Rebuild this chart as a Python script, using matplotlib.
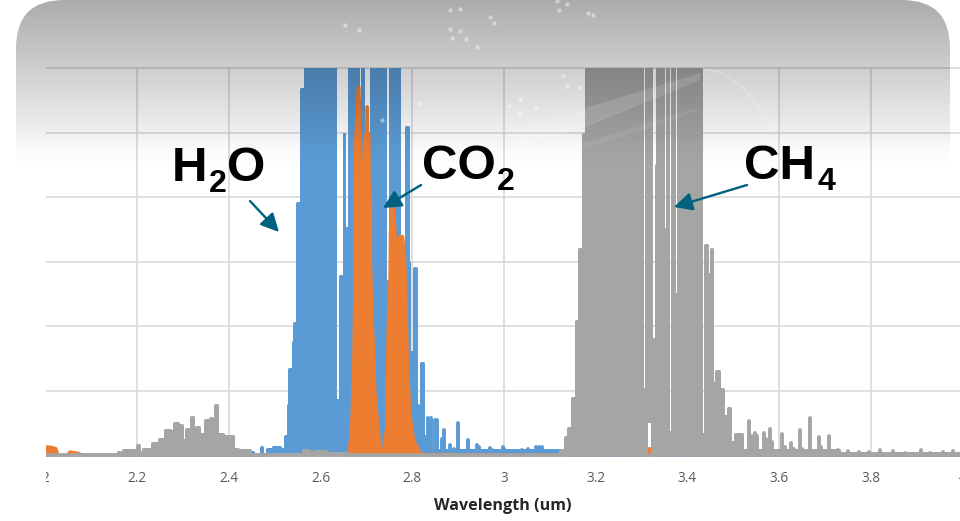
import numpy as np
import matplotlib
matplotlib.use("Agg")
import matplotlib.pyplot as plt
from matplotlib.patches import FancyArrowPatch, FancyBboxPatch, Polygon
from matplotlib.transforms import Bbox

W, H = 960, 521
CLIP = 7.0  # anything above the axis top, the chart just cuts it off

x_ticks = [2, 2.2, 2.4, 2.6, 2.8, 3, 3.2, 3.4, 3.6, 3.8, 4]
x_labels = ["2", "2.2", "2.4", "2.6", "2.8", "3", "3.2", "3.4", "3.6", "3.8", "4"]
y_ticks = [0, 1, 2, 3, 4, 5, 6]

# H2O band outline (steps), then the single lines of its tail
h2o_x = [2.0, 2.424, 2.433, 2.437, 2.448, 2.452, 2.469, 2.473, 2.483, 2.496, 2.511, 2.522, 2.528, 2.532,
         2.539, 2.543, 2.548, 2.558, 2.566, 2.632, 2.632, 2.643, 2.643, 2.651, 2.651, 2.652, 2.652, 2.663, 2.663,
         2.682, 2.682, 2.691, 2.691, 2.693, 2.693, 2.709, 2.709, 2.741, 2.741, 2.752, 2.752, 2.759, 2.759,
         2.766, 2.766, 2.771, 2.771, 2.786, 2.786, 2.787, 2.790, 2.792, 2.803, 2.803, 2.805, 2.808, 2.810,
         2.812, 2.819, 2.819, 2.820, 2.823, 2.829, 3.13, 4.0]
h2o_y = [0, 0, 0.05, 0, 0.05, 0, 0.12, 0, 0.10, 0.13, 0.10, 0.30, 0.77, 1.33,
         1.75, 2.04, 3.90, 5.67, CLIP, CLIP, 0.86, 0.86, 2.77, 2.77, 4.98, 4.98, 3.52, 3.52, CLIP,
         CLIP, 5.5, 5.5, CLIP, CLIP, 5.0, 5.0, CLIP, CLIP, 2.7, 2.7, CLIP, CLIP, 5.7,
         5.7, CLIP, CLIP, 3.2, 3.2, 5.09, 5.09, 3.0, 1.6, 1.6, 2.90, 2.90, 0.78, 0.78,
         0.32, 0.32, 1.42, 1.42, 0.3, 0.07, 0, 0]
h2o_line_x = [2.835, 2.840, 2.850, 2.854, 2.864, 2.869, 2.882, 2.890, 2.900, 2.922, 2.941, 2.946, 2.969, 2.974,
              2.997, 3.000, 3.020, 3.039, 3.052, 3.070, 3.076, 3.082, 3.100, 3.118, 3.318]
h2o_line_y = [0.57, 0.57, 0.55, 0.55, 0.25, 0.38, 0.16, 0.10, 0.49, 0.24, 0.15, 0.12, 0.11, 0.08,
              0.12, 0.10, 0.06, 0.07, 0.10, 0.13, 0.13, 0.13, 0.05, 0.06, 0.09]

# CO2
co2_x = [2.0, 2.014, 2.023, 2.027, 2.049, 2.053, 2.071, 2.08, 2.661, 2.667, 2.672, 2.675, 2.676, 2.682,
         2.684, 2.687, 2.692, 2.696, 2.700, 2.701, 2.702, 2.703, 2.706, 2.706, 2.709, 2.709, 2.711, 2.719,
         2.730, 2.736, 2.744, 2.747, 2.751, 2.752, 2.755, 2.759, 2.762, 2.766, 2.767, 2.769, 2.772, 2.779,
         2.783, 2.787, 2.790, 2.795, 2.803, 2.817, 2.832, 3.20, 3.209, 3.270, 3.28, 3.300, 3.310, 3.318,
         3.326, 3.335, 3.35, 3.42, 3.43, 4.0]
co2_y = [0.13, 0.12, 0.10, 0, 0, 0.05, 0.03, 0, 0, 0.36, 1.45, 3.0, 4.86, 5.70,
         5.70, 4.22, 4.22, 4.97, 4.97, 5.40, 5.40, 4.97, 4.97, 4.29, 3.88, 3.0, 2.49, 0.94,
         0.10, 0.02, 0.43, 1.96, 2.74, 3.47, 3.82, 3.82, 3.54, 2.85, 2.15, 2.85, 3.39, 3.39,
         3.14, 2.22, 1.34, 0.63, 0.24, 0.02, 0.01, 0, 0.05, 0.05, 0, 0, 0.08, 0.10,
         0.08, 0, 0.05, 0.05, 0, 0]

# CH4 outline (steps): the little 2.3 um band and the main one
ch4_x = [2.0, 2.15, 2.158, 2.163, 2.169, 2.189, 2.195, 2.199, 2.204, 2.210, 2.213, 2.224, 2.232, 2.248, 2.261, 2.272,
         2.280, 2.289, 2.297, 2.306, 2.317, 2.321, 2.328, 2.335, 2.348, 2.359, 2.364, 2.370, 2.375, 2.388, 2.402,
         2.410, 2.420, 2.446, 2.50, 2.562, 2.575, 2.588, 2.613, 2.66, 3.122, 3.133, 3.140, 3.148, 3.156, 3.164,
         3.173, 3.179, 3.300, 3.300, 3.309, 3.309, 3.3095, 3.3095, 3.323, 3.323, 3.331, 3.331, 3.333, 3.347, 3.347,
         3.356, 3.356, 3.358, 3.358, 3.366, 3.366, 3.371, 3.371, 3.379, 3.379, 3.429, 3.429, 3.438, 3.438,
         3.443, 3.443, 3.449, 3.452, 3.454, 3.454, 3.463, 3.463, 3.467, 3.469, 3.474, 3.478, 3.488, 3.493,
         3.497, 3.504, 3.513, 3.520, 3.73, 4.0]
ch4_y = [0, 0, 0.04, 0.02, 0.07, 0.07, 0.04, 0.15, 0.04, 0.0, 0.09, 0.09, 0.18, 0.25, 0.39, 0.37,
         0.50, 0.46, 0.24, 0.40, 0.59, 0.26, 0.43, 0.32, 0.55, 0.57, 0.36, 0.78, 0.33, 0.30, 0.29,
         0.10, 0.08, 0.02, 0.01, 0.07, 0.04, 0.06, 0.03, 0, 0.08, 0.28, 0.42, 0.88, 2.08, 3.19,
         4.97, CLIP, CLIP, 1.03, 1.03, CLIP, CLIP, 0, 0, 1.80, 1.80, 4.5, CLIP, CLIP, 3.5,
         3.5, CLIP, CLIP, 0.36, 0.36, CLIP, CLIP, 2.49, 2.49, CLIP, CLIP, 0.32, 0.32, 3.26,
         3.26, 2.8, 2.8, 3.19, 3.19, 1.11, 1.11, 1.31, 1.31, 0.9, 1.02, 0.6, 0.73, 0.2,
         0.2, 0.32, 0.32, 0.08, 0.03, 0.03]
ch4_line_x = [3.535, 3.541, 3.547, 3.551, 3.567, 3.571, 3.581, 3.585, 3.607, 3.612, 3.627, 3.632, 3.646, 3.650, 3.667,
              3.688, 3.692, 3.708, 3.729, 3.751, 3.775, 3.795, 3.820, 3.848, 3.875, 3.909, 3.93, 3.957, 3.980]
ch4_line_y = [0.52, 0.30, 0.34, 0.30, 0.34, 0.25, 0.40, 0.20, 0.32, 0.12, 0.18, 0.10, 0.38, 0.10, 0.57,
              0.28, 0.12, 0.29, 0.07, 0.06, 0.04, 0.04, 0.07, 0.06, 0.03, 0.08, 0.03, 0.05, 0.06]
# overhang above the small white notch near 3.315 um
ch4_bridge_x = [3.309, 3.324, 3.324, 3.326]
ch4_bridge_top = [CLIP, CLIP, 4.5, 4.5]
ch4_bridge_low = 0.5

# slide decoration, in pixels
speckles = [(345, 25), (359, 30), (450, 10), (460, 9), (490, 17), (494, 23), (450, 29), (460, 31), (452, 38),
            (466, 39), (477, 47), (559, 10), (567, 4), (557, 1), (588, 13), (593, 15), (567, 86), (579, 87),
            (520, 99), (509, 106), (536, 108), (520, 113), (563, 76), (420, 103), (382, 120)]
streak_main = [(513, 132), (586, 108), (700, 73), (700, 80), (586, 127), (515, 148)]
streak_faint = [(583, 143), (650, 122), (700, 107), (700, 110), (650, 128), (583, 150)]

fig = plt.figure(figsize=(W / 100, H / 100), dpi=100)
ax = fig.add_axes([45.5 / W, (H - 461.45) / H, 917 / W, (461.45 - 68) / H])
ax.set_xlim(2, 4)
ax.set_ylim(-0.1, 6)
for s in ax.spines.values():
    s.set_visible(False)

grid_c = "#d9d9d9"
ax.hlines(y_ticks[1:], 2, 4, color=grid_c, lw=1.2, clip_on=False, zorder=1)
ax.vlines(x_ticks[1:], 0, 6, color=grid_c, lw=1.2, zorder=1)

lw = 2.16
stick_lw = 2.8
blue, orange, gray = "#5b9bd5", "#ed7d31", "#a5a5a5"

ax.fill_between(h2o_x, h2o_y, 0, step="post", color=blue, lw=0, zorder=2)
ax.plot(h2o_x, h2o_y, drawstyle="steps-post", color=blue, lw=lw, solid_joinstyle="round", zorder=2)
ax.vlines(h2o_line_x, 0, h2o_line_y, color=blue, lw=stick_lw, capstyle="round", zorder=2)

ax.fill_between(co2_x, co2_y, 0, color=orange, lw=0, zorder=3)
ax.plot(co2_x, co2_y, color=orange, lw=lw, solid_capstyle="round", solid_joinstyle="round", zorder=3)

ax.fill_between(ch4_x, ch4_y, 0, step="post", color=gray, lw=0, zorder=4)
ax.plot(ch4_x, ch4_y, drawstyle="steps-post", color=gray, lw=lw, solid_joinstyle="round", zorder=4)
ax.vlines(ch4_line_x, 0, ch4_line_y, color=gray, lw=stick_lw, capstyle="round", zorder=4)
ax.fill_between(ch4_bridge_x, ch4_bridge_low, ch4_bridge_top, color=gray, lw=0, zorder=4)
ax.hlines(0, 2, 4, color=gray, lw=2.6, zorder=4)

ax.set_xticks(x_ticks)
ax.set_xticklabels(x_labels, fontfamily="Open Sans", fontsize=9.8, color="#595959")
ax.set_yticks(y_ticks)
ax.set_yticklabels([])
ax.tick_params(length=0, pad=7)
for lab in ax.get_xticklabels():
    lab.set_clip_on(True)
    lab.set_clip_box(Bbox([[46, 0], [W, H]]))

# top layer in pixel coordinates: slide shading, labels and arrows
ov = fig.add_axes([0, 0, 1, 1], zorder=10)
ov.patch.set_alpha(0)
ov.axis("off")

rows = np.arange(0, 175)
shade = np.zeros((len(rows), 1, 4))
shade[:, 0, 3] = np.interp(rows, [0, 60, 100, 130, 150, 168], [0.33, 0.21, 0.13, 0.065, 0.02, 0])
img = ov.imshow(shade, extent=(16, 950, 175, 0), aspect="auto", interpolation="nearest", zorder=1)
ov.set_xlim(0, W)
ov.set_ylim(H, 0)
panel = FancyBboxPatch((16, 0), 934, 240, boxstyle="round,pad=0,rounding_size=48",
                       transform=ov.transData, fc="none", ec="none")
ov.add_patch(panel)
img.set_clip_path(panel)

ov.add_patch(Polygon(streak_main, closed=True, fc="white", ec="none", alpha=0.13, zorder=2))
ov.add_patch(Polygon(streak_faint, closed=True, fc="white", ec="none", alpha=0.07, zorder=2))
sx, sy = zip(*speckles)
ov.scatter(sx, sy, s=14, color="white", alpha=0.22, linewidths=0, zorder=2)
ov.scatter(sx, sy, s=5, color="white", alpha=0.35, linewidths=0, zorder=2)
arc_t = np.linspace(0, 1, 30)
ov.plot(705 + 70 * arc_t, 70 + 62 * arc_t ** 2, color="white", lw=1.2, alpha=0.22, zorder=2)

big = dict(fontfamily="Liberation Sans", fontweight="bold", fontsize=35.5, color="black", va="baseline", zorder=5)
small = dict(fontfamily="Liberation Sans", fontweight="bold", fontsize=23, color="black", va="baseline", zorder=5)
ov.text(172, 181, "H", **big)
ov.text(208.5, 192, "2", **small)
ov.text(227, 181, "O", **big)
ov.text(422, 179, "CO", **big)
ov.text(497, 190, "2", **small)
ov.text(744, 179, "CH", **big)
ov.text(817, 190, "4", **small)

arrow_c = "#00617f"
for start, end in [((250, 201), (279, 232)), ((421, 185), (383, 208)), ((747, 185), (674, 207))]:
    ov.add_patch(FancyArrowPatch(start, end, arrowstyle="-|>,head_length=1.1,head_width=0.55", mutation_scale=10,
                                 color=arrow_c, lw=1.7, shrinkA=0, shrinkB=0, zorder=6))

ov.text(503, 506, "Wavelength (um)", fontfamily="Open Sans", fontweight="bold", fontsize=11.6, color="#262626",
        ha="center", va="center", zorder=5)

fig.savefig("out.png", dpi=100)
